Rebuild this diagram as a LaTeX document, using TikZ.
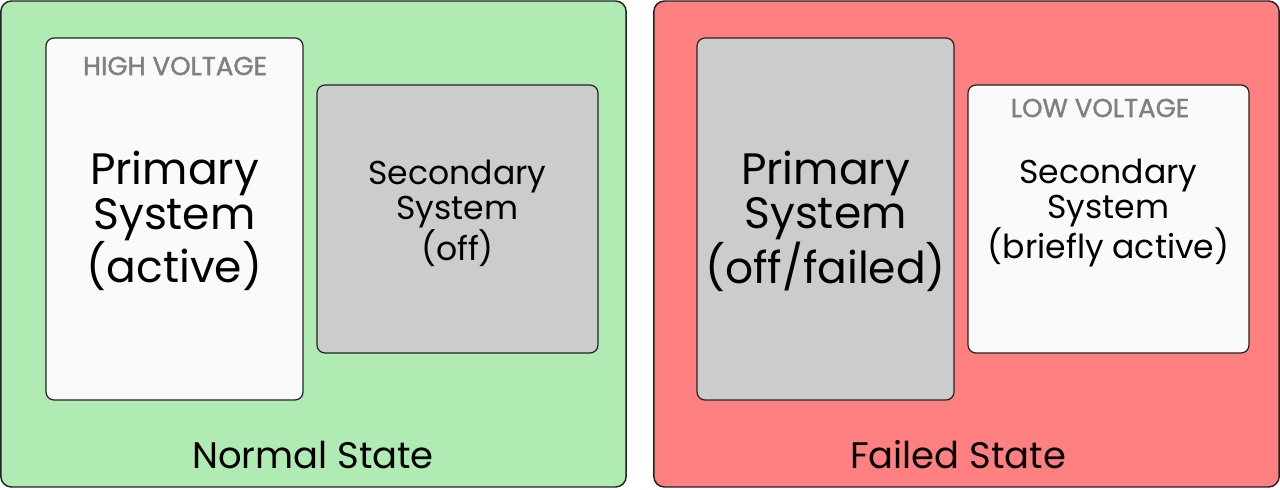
\documentclass[tikz,border=0pt]{standalone}
\usepackage{fontspec}
\setmainfont{Poppins}
\newfontfamily\tagfont[FakeBold=1.4]{Poppins}
\usetikzlibrary{positioning}
\definecolor{normalGreen}{RGB}{176, 235, 179}
\definecolor{failedRed}{RGB}{255, 128, 128}
\definecolor{activeWhite}{RGB}{250, 250, 250}
\definecolor{offGray}{RGB}{204, 204, 204}
\definecolor{edgeColor}{RGB}{34, 34, 34}
\definecolor{tagGray}{RGB}{128, 128, 128}

\begin{document}
\begin{tikzpicture}[
        x=0.75pt, y=-0.75pt,
        panel/.style={rectangle, draw=edgeColor, line width=1.1pt, rounded corners=8pt, minimum width=469pt, minimum height=364.5pt, inner sep=0pt},
        sysbox/.style={rectangle, draw=edgeColor, line width=0.9pt, rounded corners=6pt, inner sep=0pt},
        primary/.style={sysbox, minimum width=192.75pt, minimum height=271.5pt},
        secondary/.style={sysbox, minimum width=210.75pt, minimum height=201pt},
        bigtext/.style={align=center, font=\fontsize{33}{33.5}\selectfont},
        midtext/.style={align=center, font=\fontsize{24.8}{26.2}\selectfont},
        tag/.style={text=tagGray, font=\tagfont\fontsize{19.5}{22}\selectfont},
        caption/.style={font=\fontsize{27.7}{30}\selectfont}
    ]
    \useasboundingbox (0,0) rectangle (1280,489);
    % Panels
    \node (normal) [panel, fill=normalGreen] at (313.5,244) {};
    \node (failed) [panel, fill=failedRed] at (966.5,244) {};

    % Normal state
    \node (priA) [primary, fill=activeWhite] at (174.5,219) {};
    \node (secA) [secondary, fill=offGray] at (457.5,219) {};
    \node (highV) [tag] at (175,66) {HIGH VOLTAGE};
    \node (priAtxt) [bigtext] at (174.5,221) {Primary\\System\\(active)};
    \node (secAtxt) [midtext] at (457.5,213) {Secondary\\System\\(off)};
    \node (normalCap) [caption] at (313,455) {Normal State};

    % Failed state
    \node (priF) [primary, fill=offGray] at (825.5,219) {};
    \node (secF) [secondary, fill=activeWhite] at (1108.5,219) {};
    \node (lowV) [tag] at (1100,108) {LOW VOLTAGE};
    \node (priFtxt) [bigtext] at (825.5,221) {Primary\\System\\(off/failed)};
    \node (secFtxt) [midtext] at (1108.5,213) {Secondary\\System\\(briefly active)};
    \node (failedCap) [caption] at (958,455) {Failed State};
\end{tikzpicture}
\end{document}
